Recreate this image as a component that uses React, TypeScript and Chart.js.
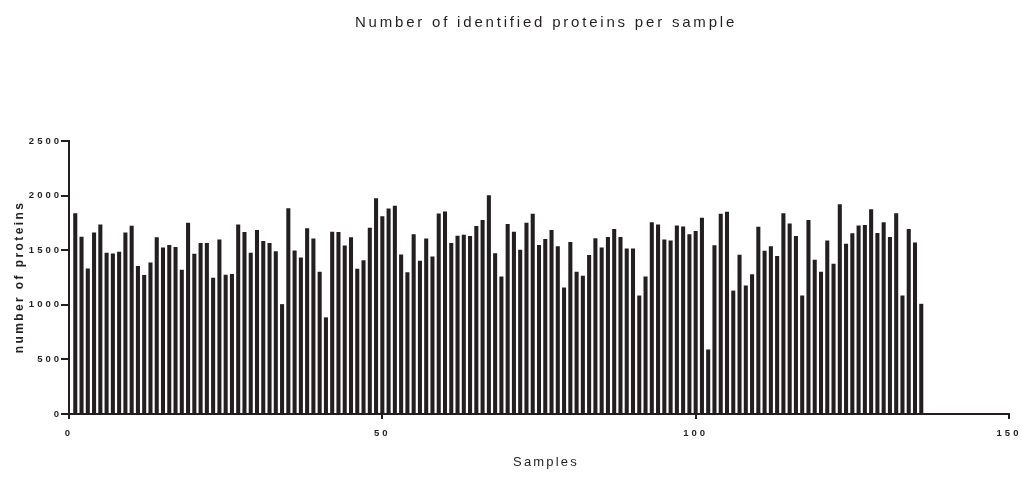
import { useEffect, useRef } from "react";
import { Chart, registerables } from "chart.js";

Chart.register(...registerables);

const FONT = '"Liberation Sans", Arial, sans-serif';
const INK = "#231f20";

const chartTitle = "Number of identified proteins per sample";
const xTitle = "Samples";
const yTitle = "number of proteins";

const sampleNumbers: number[] = [
  1, 2, 3, 4, 5, 6, 7, 8, 9, 10, 11, 12, 13, 14, 15, 16, 17, 18, 19, 20,
  21, 22, 23, 24, 25, 26, 27, 28, 29, 30, 31, 32, 33, 34, 35, 36, 37, 38, 39, 40,
  41, 42, 43, 44, 45, 46, 47, 48, 49, 50, 51, 52, 53, 54, 55, 56, 57, 58, 59, 60,
  61, 62, 63, 64, 65, 66, 67, 68, 69, 70, 71, 72, 73, 74, 75, 76, 77, 78, 79, 80,
  81, 82, 83, 84, 85, 86, 87, 88, 89, 90, 91, 92, 93, 94, 95, 96, 97, 98, 99, 100,
  101, 102, 103, 104, 105, 106, 107, 108, 109, 110, 111, 112, 113, 114, 115, 116, 117, 118, 119, 120,
  121, 122, 123, 124, 125, 126, 127, 128, 129, 130, 131, 132, 133, 134, 135, 136,
];

const proteinCounts: number[] = [
  1836, 1621, 1330, 1658, 1733, 1473, 1467, 1482, 1658, 1721,
  1352, 1270, 1385, 1615, 1521, 1545, 1527, 1318, 1749, 1464,
  1564, 1564, 1245, 1594, 1273, 1279, 1733, 1664, 1473, 1682,
  1582, 1564, 1488, 1003, 1882, 1494, 1430, 1697, 1603, 1300,
  882, 1667, 1664, 1539, 1615, 1327, 1406, 1703, 1973, 1809,
  1879, 1903, 1458, 1294, 1642, 1400, 1603, 1439, 1833, 1852,
  1564, 1630, 1639, 1627, 1718, 1773, 2000, 1470, 1255, 1736,
  1667, 1500, 1749, 1830, 1545, 1600, 1682, 1533, 1155, 1573,
  1300, 1264, 1452, 1606, 1521, 1618, 1691, 1618, 1512, 1512,
  1082, 1255, 1752, 1733, 1594, 1585, 1724, 1715, 1642, 1673,
  1794, 588, 1542, 1830, 1848, 1127, 1455, 1173, 1276, 1712,
  1491, 1533, 1445, 1836, 1742, 1627, 1082, 1773, 1409, 1300,
  1585, 1373, 1918, 1555, 1652, 1724, 1727, 1873, 1655, 1752,
  1618, 1836, 1082, 1691, 1567, 1006,
];

const xMin = 0;
const xMax = 150;
const xStep = 50;
const yMin = 0;
const yMax = 2500;
const yStep = 500;

export default function App() {
  const ref = useRef<HTMLCanvasElement>(null);

  useEffect(() => {
    if (!ref.current) return;

    const textPlugin = {
      id: "customTexts",
      beforeDraw(chart: any) {
        chart.ctx.letterSpacing = "3px";
      },
      afterDraw(chart: any) {
        const ctx = chart.ctx as CanvasRenderingContext2D;
        ctx.save();
        ctx.fillStyle = INK;
        ctx.textBaseline = "alphabetic";
        ctx.textAlign = "center";

        (ctx as any).letterSpacing = "2.8px";
        ctx.font = `15px ${FONT}`;
        ctx.fillText(chartTitle, 546, 26.5);

        (ctx as any).letterSpacing = "2.2px";
        ctx.font = `13px ${FONT}`;
        ctx.fillText(xTitle, 546, 466);

        ctx.translate(23, 277);
        ctx.rotate(-Math.PI / 2);
        (ctx as any).letterSpacing = "2.4px";
        ctx.font = `bold 12px ${FONT}`;
        ctx.fillText(yTitle, 0, 0);
        ctx.restore();
      },
    };

    const tickFont = { family: FONT, size: 9.5, weight: "bold" as const };
    const plainNumber = (v: any) => String(v);

    const chart = new Chart(ref.current, {
      type: "bar",
      data: {
        datasets: [
          {
            data: proteinCounts.map((v, i) => ({ x: sampleNumbers[i], y: v })),
            backgroundColor: INK,
            borderWidth: 0,
            barThickness: 3.4,
          },
        ],
      },
      options: {
        animation: false,
        responsive: true,
        maintainAspectRatio: false,
        layout: { padding: { top: 141, right: 12, left: 0, bottom: 0 } },
        plugins: {
          legend: { display: false },
          tooltip: { enabled: false },
          title: { display: false },
        },
        scales: {
          x: {
            type: "linear",
            min: xMin,
            max: xMax,
            offset: false,
            ticks: {
              stepSize: xStep,
              color: INK,
              font: tickFont,
              padding: 9,
              maxRotation: 0,
              callback: plainNumber,
            },
            grid: {
              display: true,
              offset: false,
              drawOnChartArea: false,
              drawTicks: true,
              tickLength: 5,
              color: INK,
              lineWidth: 2,
            },
            border: { display: true, color: INK, width: 2 },
            afterFit(s: any) {
              s.height = 79;
              s.paddingLeft = 0;
              s.paddingRight = 0;
            },
          },
          y: {
            type: "linear",
            min: yMin,
            max: yMax,
            ticks: {
              stepSize: yStep,
              color: INK,
              font: tickFont,
              padding: -1,
              callback: plainNumber,
            },
            grid: {
              display: true,
              offset: false,
              drawOnChartArea: false,
              drawTicks: true,
              tickLength: 8,
              color: INK,
              lineWidth: 2,
            },
            border: { display: true, color: INK, width: 2 },
            afterFit(s: any) {
              s.width = 69;
              s.paddingTop = 0;
              s.paddingBottom = 0;
            },
          },
        },
      },
      plugins: [textPlugin],
    });

    return () => chart.destroy();
  }, []);

  return (
    <div style={{ position: "fixed", left: 0, top: 0, width: 1021, height: 493, background: "#fff" }}>
      <canvas ref={ref} />
    </div>
  );
}
